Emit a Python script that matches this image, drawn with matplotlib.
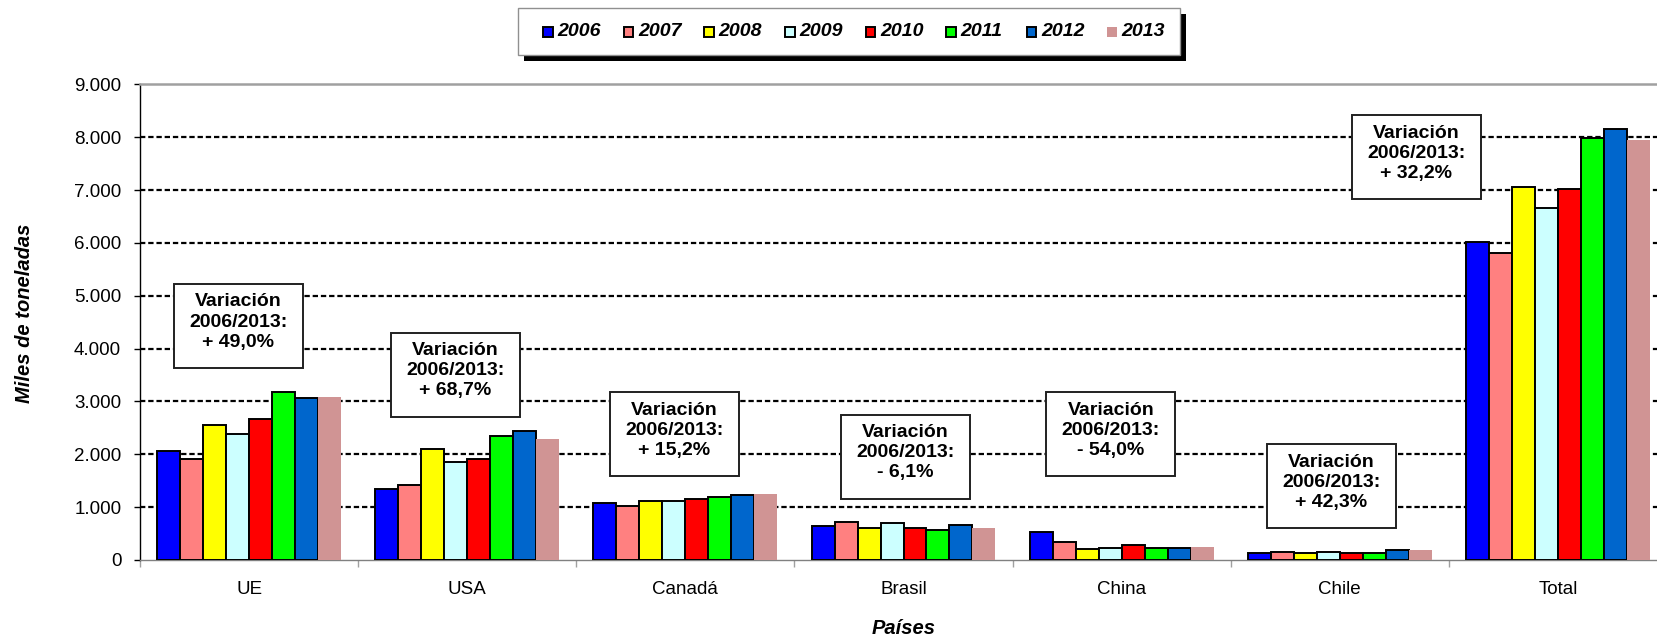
import numpy as np
import matplotlib
matplotlib.use("Agg")
import matplotlib.pyplot as plt
import matplotlib.transforms as mtransforms
from matplotlib.patches import Rectangle
from matplotlib.ticker import FuncFormatter, FixedLocator

plt.rcParams['font.family'] = ['Liberation Sans', 'DejaVu Sans']

# ---------------- data ----------------
categories = ['UE', 'USA', 'Canadá', 'Brasil', 'China', 'Chile', 'Total']
years = ['2006', '2007', '2008', '2009', '2010', '2011', '2012', '2013']
v2006 = [2068, 1349, 1078, 643, 536, 130, 6016]
v2007 = [1905, 1419, 1028, 725, 340, 144, 5808]
v2008 = [2560, 2100, 1116, 612, 214, 132, 7063]
v2009 = [2384, 1848, 1110, 700, 220, 157, 6659]
v2010 = [2673, 1911, 1154, 612, 278, 125, 7012]
v2011 = [3172, 2352, 1192, 568, 220, 138, 7990]
v2012 = [3071, 2434, 1230, 656, 233, 182, 8154]
v2013 = [3084, 2286, 1240, 603, 246, 182, 7952]
series = [v2006, v2007, v2008, v2009, v2010, v2011, v2012, v2013]
variations = ['+ 49,0%', '+ 68,7%', '+ 15,2%', '- 6,1%', '- 54,0%', '+ 42,3%', '+ 32,2%']

# ---------------- style ----------------
colors = ['#0000FF', '#FF8080', '#FFFF00', '#CCFFFF', '#FF0000', '#00FF00', '#0066CC', '#D09494']
edges = ['black'] * 7 + ['none']
# annotation box centres (data coords)
box_pos = [(-0.05, 4427), (0.945, 3505), (1.95, 2378), (3.01, 1958),
           (3.95, 2378), (4.96, 1394), (5.35, 7618)]

W, H = 1657, 637
fig = plt.figure(figsize=(W / 100, H / 100), dpi=100)
ax_left, ax_right, ax_bottom, ax_top = 140, 1667, 560, 84.3
ax = fig.add_axes([ax_left / W, 1 - ax_bottom / H, (ax_right - ax_left) / W, (ax_bottom - ax_top) / H])

n = len(years)
bw = 0.1054
xc = np.arange(len(categories))
for i, (yr, vals) in enumerate(zip(years, series)):
    ax.bar(xc + (i - (n - 1) / 2) * bw, vals, width=bw, color=colors[i],
           edgecolor=edges[i], linewidth=1.4, zorder=3, label=yr)

ax.set_xlim(-0.5, len(categories) - 0.5)
ax.set_ylim(0, 9000)

# grid
for yv in range(1000, 9000, 1000):
    ax.axhline(yv, color='black', linewidth=1.6, linestyle=(0, (2.4, 1.3)), zorder=1)

# spines
ax.spines['right'].set_visible(False)
ax.spines['top'].set_color('#a0a0a0')
ax.spines['top'].set_linewidth(1.8)
ax.spines['left'].set_color('black')
ax.spines['left'].set_linewidth(1.0)
ax.spines['bottom'].set_color('#808080')
ax.spines['bottom'].set_linewidth(1.0)

# ticks
ax.set_yticks(np.arange(0, 9001, 1000))
ax.yaxis.set_major_formatter(FuncFormatter(lambda v, p: f"{int(v):,}".replace(',', '.')))
ax.tick_params(axis='y', length=4, width=1, color='black', pad=9.5, labelsize=13.5)
ax.set_xticks(xc)
ax.set_xticklabels(categories)
ax.tick_params(axis='x', which='major', length=0, pad=15, labelsize=13.5)
ax.xaxis.set_minor_locator(FixedLocator(np.arange(-0.5, len(categories) + 0.5, 1.0)))
ax.tick_params(axis='x', which='minor', length=5, width=1, color='#a0a0a0')

# annotation boxes
for txt, (bx, by) in zip(variations, box_pos):
    tr = fig.dpi_scale_trans + mtransforms.ScaledTranslation(bx, by, ax.transData)
    rect = Rectangle((-0.645, -0.42), 1.29, 0.84, transform=tr, facecolor='white',
                     edgecolor='#202020', linewidth=1.4, zorder=5, clip_on=False)
    ax.add_patch(rect)
    ax.text(bx, by, 'Variación\n2006/2013:\n' + txt, ha='center', va='center',
            fontsize=14, fontweight='bold', linespacing=1.25, zorder=6,
            transform=ax.transData + mtransforms.ScaledTranslation(0, 0.04, fig.dpi_scale_trans))

# axis labels
fig.text(25 / W, 1 - 313 / H, 'Miles de toneladas', rotation=90, ha='center', va='center',
         fontsize=14.5, fontweight='bold', fontstyle='italic')
fig.text(904 / W, 1 - 628 / H, 'Países', ha='center', va='center',
         fontsize=14.5, fontweight='bold', fontstyle='italic')

# legend (manual, in figure pixels)
def px(x, y):
    return (x / W, 1 - y / H)

lx0, ly0, lx1, ly1 = 518, 8, 1180, 54.5
shadow = Rectangle(px(lx0 + 6, ly1 + 6), (lx1 - lx0) / W, (ly1 - ly0) / H,
                   transform=fig.transFigure, facecolor='black', edgecolor='none', zorder=1)
frame = Rectangle(px(lx0, ly1), (lx1 - lx0) / W, (ly1 - ly0) / H,
                  transform=fig.transFigure, facecolor='white', edgecolor='#909090',
                  linewidth=1.0, zorder=2)
fig.patches.extend([shadow, frame])
for i, yr in enumerate(years):
    mx = 548 + i * 80.6
    my = 32
    s = 9.5
    mk = Rectangle(px(mx - s / 2, my + s / 2), s / W, s / H, transform=fig.transFigure,
                   facecolor=colors[i], edgecolor=('black' if edges[i] != 'none' else 'none'),
                   linewidth=1.4, zorder=3)
    fig.patches.append(mk)
    fig.text(*px(mx + 9.5, my - 1), yr, ha='left', va='center', fontsize=14,
             fontweight='bold', fontstyle='italic', zorder=4)

fig.savefig('out.png', dpi=100)
